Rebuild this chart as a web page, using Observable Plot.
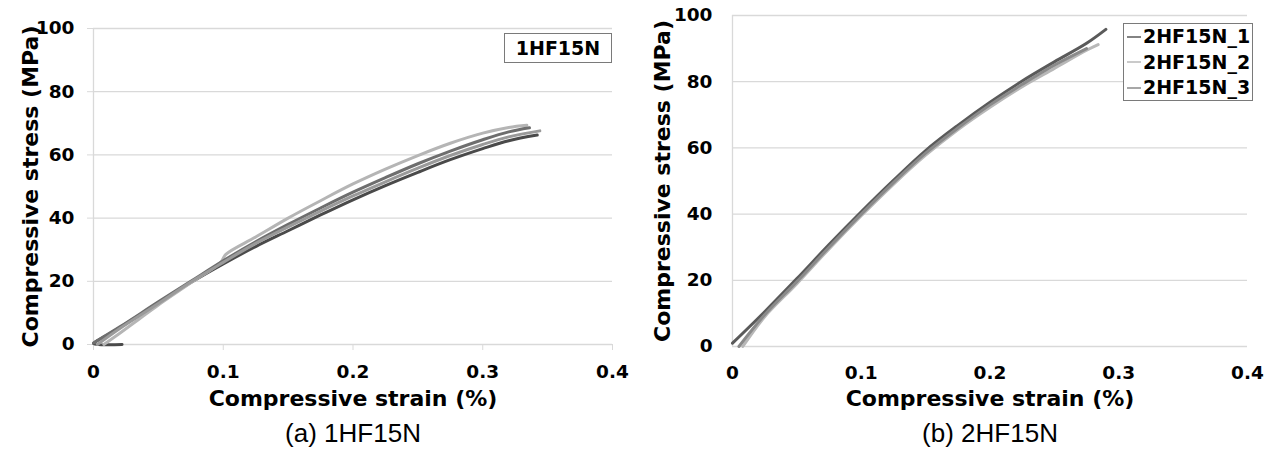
<!DOCTYPE html>
<html><head><meta charset="utf-8">
<script src="https://cdn.jsdelivr.net/npm/d3@7"></script>
<script src="https://cdn.jsdelivr.net/npm/@observablehq/plot@0.6"></script>
<style>
body{margin:0;background:#fff;}
#wrap{position:relative;width:1274px;height:450px;overflow:hidden;font-family:"DejaVu Sans",sans-serif;}
.panel{position:absolute;top:0;}
.legend{position:absolute;background:#fff;border:1px solid #7a7a7a;font-weight:bold;font-size:19px;color:#000;box-sizing:border-box;font-family:"DejaVu Sans",sans-serif;}
.legend .row{height:25.5px;line-height:25.5px;white-space:nowrap;display:flex;align-items:center;}
</style></head><body><div id="wrap"></div>
<script>
// ---- shared axis data ----
const xTicks = [0, 0.1, 0.2, 0.3, 0.4];
const xTickLabels = ["0", "0.1", "0.2", "0.3", "0.4"];
const yTicks = [0, 20, 40, 60, 80, 100];
const xTitle = "Compressive strain (%)";
const yTitle = "Compressive stress (MPa)";

// ---- panel (a) 1HF15N : four specimens ----
const seriesA = ["1HF15N_1", "1HF15N_2", "1HF15N_3", "1HF15N_4"];
const strainA1 = [0.022, 0.0, 0.01, 0.02, 0.035, 0.05, 0.075, 0.1, 0.125, 0.15, 0.175, 0.2, 0.225, 0.25, 0.275, 0.3, 0.32, 0.342];
const stressA1 = [0, 0.3, 2.8, 5.3, 9.2, 13.2, 19.6, 25.5, 31, 36, 41, 45.8, 50.3, 54.5, 58.5, 62, 64.5, 66.3];
const strainA2 = [0.008, 0.02, 0.035, 0.05, 0.075, 0.098, 0.102, 0.125, 0.15, 0.175, 0.2, 0.225, 0.25, 0.275, 0.3, 0.32, 0.334];
const stressA2 = [0, 3.5, 8, 12.5, 19.5, 26, 28.5, 34, 40, 45.5, 50.8, 55.5, 59.8, 63.7, 66.9, 68.7, 69.4];
const strainA3 = [0, 0.02, 0.05, 0.075, 0.1, 0.125, 0.15, 0.175, 0.2, 0.225, 0.25, 0.275, 0.3, 0.32, 0.336];
const stressA3 = [0.5, 5.5, 13.5, 20, 26.5, 32.5, 38, 43.2, 48.2, 52.8, 57.2, 61.2, 64.8, 67.3, 68.6];
const strainA4 = [0.003, 0.02, 0.05, 0.075, 0.1, 0.125, 0.15, 0.175, 0.2, 0.225, 0.25, 0.275, 0.3, 0.32, 0.344];
const stressA4 = [0, 5, 13, 19.8, 26, 32, 37.2, 42.2, 47, 51.5, 55.8, 59.8, 63.3, 65.7, 67.6];
const legendA = "1HF15N";
const captionA = "(a) 1HF15N";

// ---- panel (b) 2HF15N : three specimens ----
const seriesB = ["2HF15N_1", "2HF15N_2", "2HF15N_3"];
const strainB1 = [0, 0.025, 0.05, 0.075, 0.1, 0.125, 0.15, 0.175, 0.2, 0.225, 0.25, 0.275, 0.29];
const stressB1 = [1, 10.5, 20.5, 30.8, 40.7, 50.2, 59.2, 66.8, 73.8, 80.2, 86, 91.6, 95.8];
const strainB2 = [0.008, 0.025, 0.05, 0.075, 0.1, 0.125, 0.15, 0.175, 0.2, 0.225, 0.25, 0.275, 0.284];
const stressB2 = [0, 9, 19, 29.5, 39.5, 49, 57.8, 65.5, 72.3, 78.5, 84, 89.5, 91.2];
const strainB3 = [0.005, 0.025, 0.05, 0.075, 0.1, 0.125, 0.15, 0.175, 0.2, 0.225, 0.25, 0.275];
const stressB3 = [0, 9.6, 19.6, 30, 40, 49.5, 58.4, 66, 73, 79.2, 85, 90];
const captionB = "(b) 2HF15N";

function rowsOf(names, strains, stresses) {
  const out = [];
  names.forEach((n, k) => strains[k].forEach((s, i) => out.push({series: n, strain: s, stress: stresses[k][i]})));
  return out;
}
const rowsA = rowsOf(seriesA, [strainA1, strainA2, strainA3, strainA4], [stressA1, stressA2, stressA3, stressA4]);
const rowsB = rowsOf(seriesB, [strainB1, strainB2, strainB3], [stressB1, stressB2, stressB3]);

const colorsA = ["#4a4a4a", "#b5b5b5", "#6e6e6e", "#9a9a9a"];
const colorsB = ["#5a5a5a", "#b8b8b8", "#8a8a8a"];

function panel(o) {
  return Plot.plot({
    width: o.width, height: 450,
    marginLeft: o.ml, marginRight: o.mr, marginTop: o.mt, marginBottom: o.mb,
    x: {domain: [0, 0.4]},
    y: {domain: [0, 100]},
    color: {domain: o.names, range: o.colors},
    style: {fontFamily: "DejaVu Sans", fontWeight: "bold", fontSize: "18px", color: "#000", background: "transparent", overflow: "visible"},
    marks: [
      Plot.gridY(yTicks, {stroke: "#d9d9d9", strokeOpacity: 1, strokeWidth: 1.3}),
      Plot.ruleX([0], {stroke: "#d9d9d9", strokeWidth: 1.3}),
      Plot.axisY(yTicks, {tickSize: o.tickSize, tickPadding: o.padY, stroke: "#d9d9d9", fill: "#000", label: null, tickFormat: d => String(d), fontSize: 18.5, fontWeight: "bold"}),
      Plot.axisX(xTicks, {tickSize: o.tickSize, tickPadding: o.padX, stroke: "#d9d9d9", fill: "#000", label: null, tickFormat: d => xTickLabels[xTicks.indexOf(d)], fontSize: 18.5, fontWeight: "bold"}),
      Plot.line(o.rows, {x: "strain", y: "stress", z: "series", stroke: "series", strokeWidth: 3, strokeLinejoin: "round", curve: "catmull-rom"}),
      Plot.text([xTitle], {frameAnchor: "bottom", lineAnchor: "middle", textAnchor: "middle", dy: o.xtDy, fontSize: 22, fontWeight: "bold", fill: "#000"}),
      Plot.text([yTitle], {frameAnchor: "left", lineAnchor: "middle", textAnchor: "middle", rotate: -90, dx: o.ytDx, fontSize: 22, fontWeight: "bold", fill: "#000"}),
      Plot.text([o.caption], {frameAnchor: "bottom", lineAnchor: "middle", textAnchor: "middle", dy: o.capDy, fontSize: 26, fontWeight: "normal", fontFamily: "Liberation Sans", fill: "#000"})
    ]
  });
}

const wrap = document.getElementById("wrap");

const pa = panel({width: 637, ml: 93, mr: 25, mt: 28, mb: 106, tickSize: 6, padY: 13, padX: 14,
  names: seriesA, colors: colorsA, rows: rowsA, xtDy: 54, ytDx: -63, capDy: 89, caption: captionA});
pa.classList.add("panel"); pa.style.left = "0px";
wrap.appendChild(pa);

const pb = panel({width: 637, ml: 95, mr: 27, mt: 15, mb: 104, tickSize: 0, padY: 20, padX: 19,
  names: seriesB, colors: colorsB, rows: rowsB, xtDy: 52, ytDx: -70, capDy: 87, caption: captionB});
pb.classList.add("panel"); pb.style.left = "637px";
wrap.appendChild(pb);

// legend (a)
const la = document.createElement("div");
la.className = "legend";
Object.assign(la.style, {left: "504px", top: "33px", width: "108px", height: "30px", lineHeight: "28px", textAlign: "center"});
la.textContent = legendA;
wrap.appendChild(la);

// legend (b)
const lb = document.createElement("div");
lb.className = "legend";
Object.assign(lb.style, {left: "1123px", top: "23px", width: "130px", height: "78px"});
seriesB.forEach((n, i) => {
  const r = document.createElement("div");
  r.className = "row";
  r.innerHTML = `<svg width="17" height="4" style="margin-left:2px;margin-right:0px"><line x1="1" y1="2" x2="15" y2="2" stroke="${colorsB[i]}" stroke-width="1.5"/></svg><span>${n}</span>`;
  lb.appendChild(r);
});
wrap.appendChild(lb);
</script>
</body></html>
